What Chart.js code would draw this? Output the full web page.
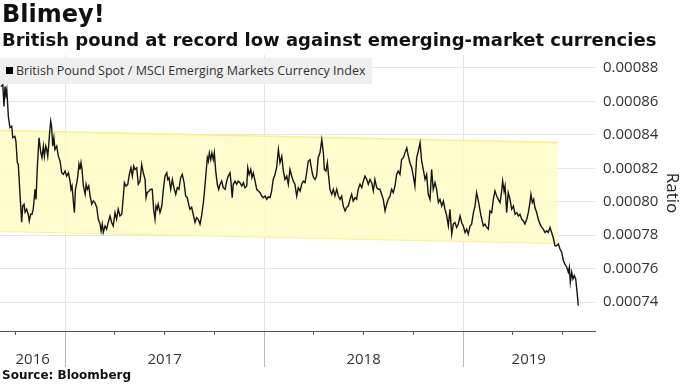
<!DOCTYPE html>
<html>
<head>
<meta charset="utf-8">
<script src="https://cdn.jsdelivr.net/npm/chart.js@4.4.1/dist/chart.umd.min.js"></script>
<style>
  html, body { margin: 0; padding: 0; background: #ffffff; }
  body { width: 683px; height: 384px; position: relative; overflow: hidden; }
  #chart { position: absolute; left: 0; top: 0; }
  .title { position: absolute; left: 2px; top: 0px; font-family: "DejaVu Sans", sans-serif; font-weight: bold; font-size: 24px; color: #111; white-space: nowrap; }
  .subtitle { position: absolute; left: 2px; top: 29px; font-family: "DejaVu Sans", sans-serif; font-weight: bold; font-size: 18px; color: #111; white-space: nowrap; letter-spacing: 0px; }
  .legend { position: absolute; left: 0; top: 58px; width: 372px; height: 26px; background: #efefef; font-family: "Open Sans", sans-serif; font-size: 12.5px; color: #333; white-space: nowrap; }
  .legend .sw { position: absolute; left: 6px; top: 9px; width: 7px; height: 7px; background: #000; }
  .legend .tx { position: absolute; left: 16px; top: 4px; }
  .source { position: absolute; left: 2px; top: 368px; font-family: "DejaVu Sans", sans-serif; font-weight: bold; font-size: 12px; color: #111; white-space: nowrap; }
</style>
</head>
<body>
<canvas id="chart" width="683" height="384"></canvas>
<div class="title">Blimey!</div>
<div class="subtitle">British pound at record low against emerging-market currencies</div>
<div class="legend"><span class="sw"></span><span class="tx">British Pound Spot / MSCI Emerging Markets Currency Index</span></div>
<div class="source">Source: Bloomberg</div>
<script>
// ---- Data (x = date as decimal year, y = GBP / MSCI EM currency index ratio) ----
const dates = [
  2016.677,2016.687,2016.693,2016.698,2016.703,2016.707,2016.715,2016.723,2016.732,2016.737,
  2016.748,2016.753,2016.760,2016.765,2016.774,2016.782,2016.787,2016.794,2016.799,2016.807,
  2016.815,2016.820,2016.827,2016.834,2016.840,2016.849,2016.854,2016.860,2016.869,2016.878,
  2016.884,2016.891,2016.896,2016.903,2016.908,2016.913,2016.918,2016.923,2016.928,2016.933,
  2016.938,2016.944,2016.949,2016.958,2016.966,2016.975,2016.983,2016.991,2017.000,2017.008,
  2017.017,2017.025,2017.030,2017.035,2017.042,2017.047,2017.052,2017.059,2017.064,2017.070,
  2017.075,2017.080,2017.085,2017.092,2017.101,2017.106,2017.112,2017.119,2017.126,2017.134,
  2017.142,2017.150,2017.159,2017.167,2017.176,2017.181,2017.187,2017.192,2017.201,2017.209,
  2017.217,2017.226,2017.234,2017.242,2017.251,2017.259,2017.267,2017.276,2017.285,2017.293,
  2017.298,2017.306,2017.315,2017.323,2017.331,2017.338,2017.345,2017.351,2017.360,2017.368,
  2017.377,2017.385,2017.393,2017.402,2017.407,2017.413,2017.422,2017.430,2017.438,2017.445,
  2017.452,2017.457,2017.463,2017.468,2017.477,2017.486,2017.494,2017.502,2017.511,2017.516,
  2017.522,2017.531,2017.539,2017.547,2017.556,2017.564,2017.572,2017.581,2017.589,2017.598,
  2017.606,2017.614,2017.623,2017.628,2017.636,2017.644,2017.653,2017.661,2017.669,2017.678,
  2017.686,2017.695,2017.700,2017.707,2017.715,2017.720,2017.725,2017.732,2017.738,2017.745,
  2017.750,2017.757,2017.765,2017.772,2017.779,2017.787,2017.795,2017.804,2017.812,2017.820,
  2017.829,2017.834,2017.840,2017.845,2017.854,2017.862,2017.870,2017.879,2017.888,2017.896,
  2017.904,2017.913,2017.918,2017.925,2017.933,2017.939,2017.946,2017.955,2017.963,2017.971,
  2017.980,2017.988,2017.996,2018.005,2018.013,2018.021,2018.030,2018.038,2018.046,2018.055,
  2018.063,2018.072,2018.080,2018.089,2018.097,2018.105,2018.114,2018.122,2018.130,2018.139,
  2018.147,2018.155,2018.164,2018.172,2018.181,2018.189,2018.197,2018.206,2018.214,2018.222,
  2018.231,2018.236,2018.242,2018.249,2018.256,2018.264,2018.272,2018.281,2018.290,2018.298,
  2018.303,2018.311,2018.318,2018.325,2018.331,2018.340,2018.348,2018.356,2018.365,2018.373,
  2018.382,2018.390,2018.398,2018.407,2018.415,2018.423,2018.432,2018.440,2018.448,2018.457,
  2018.465,2018.473,2018.482,2018.491,2018.499,2018.507,2018.516,2018.524,2018.532,2018.541,
  2018.549,2018.557,2018.566,2018.574,2018.582,2018.591,2018.599,2018.608,2018.616,2018.624,
  2018.633,2018.641,2018.649,2018.658,2018.666,2018.674,2018.683,2018.691,2018.700,2018.708,
  2018.717,2018.725,2018.733,2018.742,2018.750,2018.758,2018.767,2018.775,2018.784,2018.792,
  2018.800,2018.809,2018.817,2018.825,2018.834,2018.842,2018.850,2018.859,2018.867,2018.876,
  2018.884,2018.893,2018.901,2018.909,2018.918,2018.926,2018.934,2018.943,2018.951,2018.959,
  2018.968,2018.976,2018.985,2018.993,2019.001,2019.010,2019.018,2019.026,2019.035,2019.043,
  2019.052,2019.060,2019.068,2019.077,2019.090,2019.102,2019.110,2019.119,2019.127,2019.135,
  2019.144,2019.152,2019.160,2019.169,2019.177,2019.186,2019.194,2019.199,2019.206,2019.211,
  2019.219,2019.227,2019.236,2019.244,2019.253,2019.261,2019.270,2019.278,2019.286,2019.295,
  2019.303,2019.311,2019.320,2019.328,2019.336,2019.341,2019.348,2019.355,2019.361,2019.370,
  2019.378,2019.387,2019.395,2019.403,2019.412,2019.420,2019.428,2019.437,2019.445,2019.453,
  2019.462,2019.470,2019.479,2019.487,2019.496,2019.504,2019.512,2019.521,2019.529,2019.534,
  2019.539,2019.546,2019.552,2019.559,2019.566,2019.573,2019.579
];
const ratio = [
  0.0008689,0.0008699,0.0008570,0.0008689,0.0008639,0.0008669,0.0008510,0.0008443,0.0008451,0.0008383,
  0.0008391,0.0008361,0.0008235,0.0008223,0.0008034,0.0007877,0.0007974,0.0007985,0.0007937,0.0007955,
  0.0007925,0.0007885,0.0007925,0.0007925,0.0007955,0.0008074,0.0008014,0.0008193,0.0008382,0.0008294,
  0.0008264,0.0008332,0.0008272,0.0008332,0.0008312,0.0008272,0.0008342,0.0008421,0.0008480,0.0008441,
  0.0008332,0.0008382,0.0008312,0.0008332,0.0008272,0.0008242,0.0008173,0.0008163,0.0008183,0.0008153,
  0.0008173,0.0008123,0.0008074,0.0008094,0.0007995,0.0007935,0.0008074,0.0008114,0.0008153,0.0008223,
  0.0008193,0.0008233,0.0008193,0.0008094,0.0008044,0.0008104,0.0008074,0.0008094,0.0008034,0.0007985,
  0.0008004,0.0007995,0.0007967,0.0007895,0.0007866,0.0007826,0.0007866,0.0007816,0.0007855,0.0007836,
  0.0007876,0.0007915,0.0007876,0.0007855,0.0007935,0.0007895,0.0007955,0.0007915,0.0007925,0.0008034,
  0.0008114,0.0008094,0.0008104,0.0008163,0.0008203,0.0008153,0.0008213,0.0008193,0.0008203,0.0008104,
  0.0008123,0.0008223,0.0008173,0.0008133,0.0008024,0.0008054,0.0008064,0.0008074,0.0008074,0.0007955,
  0.0007895,0.0007974,0.0007955,0.0007985,0.0007935,0.0007974,0.0008074,0.0008153,0.0008173,0.0008133,
  0.0008144,0.0008074,0.0008133,0.0008084,0.0008044,0.0008084,0.0008074,0.0008144,0.0008163,0.0008114,
  0.0008034,0.0008024,0.0007974,0.0007955,0.0007967,0.0007925,0.0007876,0.0007905,0.0007895,0.0007866,
  0.0007915,0.0007995,0.0008054,0.0008153,0.0008263,0.0008242,0.0008292,0.0008252,0.0008292,0.0008252,
  0.0008292,0.0008183,0.0008104,0.0008074,0.0008104,0.0008123,0.0008084,0.0008074,0.0008123,0.0008153,
  0.0008173,0.0008114,0.0008024,0.0008104,0.0008123,0.0008104,0.0008123,0.0008114,0.0008094,0.0008114,
  0.0008084,0.0008094,0.0008203,0.0008163,0.0008193,0.0008144,0.0008173,0.0008123,0.0008074,0.0008064,
  0.0008054,0.0008034,0.0008024,0.0008034,0.0008014,0.0008030,0.0008024,0.0008064,0.0008133,0.0008163,
  0.0008203,0.0008312,0.0008233,0.0008272,0.0008183,0.0008133,0.0008153,0.0008104,0.0008193,0.0008153,
  0.0008123,0.0008104,0.0008034,0.0008084,0.0008064,0.0008104,0.0008123,0.0008114,0.0008173,0.0008242,
  0.0008252,0.0008213,0.0008173,0.0008144,0.0008133,0.0008153,0.0008263,0.0008292,0.0008371,0.0008292,
  0.0008193,0.0008183,0.0008233,0.0008144,0.0008074,0.0008044,0.0008074,0.0008034,0.0008074,0.0008034,
  0.0008014,0.0008034,0.0007974,0.0007945,0.0007965,0.0007974,0.0008014,0.0008044,0.0008004,0.0008024,
  0.0008014,0.0008074,0.0008104,0.0008084,0.0008123,0.0008153,0.0008133,0.0008104,0.0008133,0.0008114,
  0.0008064,0.0008133,0.0008084,0.0008074,0.0008074,0.0008044,0.0008014,0.0007945,0.0007985,0.0008014,
  0.0008034,0.0008074,0.0008054,0.0008094,0.0008163,0.0008183,0.0008163,0.0008252,0.0008263,0.0008292,
  0.0008322,0.0008272,0.0008233,0.0008203,0.0008153,0.0008094,0.0008263,0.0008302,0.0008352,0.0008242,
  0.0008193,0.0008133,0.0008163,0.0008044,0.0008014,0.0008193,0.0008074,0.0008114,0.0008074,0.0007995,
  0.0008014,0.0007974,0.0008004,0.0007955,0.0007915,0.0007855,0.0007955,0.0007806,0.0007866,0.0007876,
  0.0007846,0.0007866,0.0007915,0.0007876,0.0007855,0.0007816,0.0007836,0.0007806,0.0007855,0.0007866,
  0.0007935,0.0007974,0.0008054,0.0008004,0.0007915,0.0007855,0.0007866,0.0007846,0.0007836,0.0007945,
  0.0007935,0.0008014,0.0008064,0.0008034,0.0008014,0.0007995,0.0008064,0.0008123,0.0008064,0.0008094,
  0.0007935,0.0008054,0.0008014,0.0007955,0.0007974,0.0007925,0.0007935,0.0007915,0.0007925,0.0007895,
  0.0007885,0.0007866,0.0007895,0.0007935,0.0007995,0.0008044,0.0007995,0.0008014,0.0007965,0.0007935,
  0.0007895,0.0007866,0.0007846,0.0007836,0.0007816,0.0007826,0.0007816,0.0007846,0.0007816,0.0007786,
  0.0007736,0.0007736,0.0007747,0.0007717,0.0007697,0.0007647,0.0007627,0.0007608,0.0007578,0.0007608,
  0.0007518,0.0007578,0.0007538,0.0007558,0.0007538,0.0007459,0.0007379
];

// Trading channel (yellow band): start / end dates and upper / lower bounds
const bandDates = [2016.673, 2019.477];
const bandUpper = [0.0008425, 0.0008354];
const bandLower = [0.0007824, 0.0007752];

// Axes
const xMin = 2016.673, xMax = 2019.663;
const yMin = 0.0007227, yMax = 0.0008877;
const yTicks = [0.00074, 0.00076, 0.00078, 0.00080, 0.00082, 0.00084, 0.00086, 0.00088];
const yearBoundaries = [2017, 2018, 2019];
const yearLabelPos = [2016.837, 2017.5, 2018.5, 2019.33];
const yearLabels = ['2016', '2017', '2018', '2019'];
const quarterTicks = [2016.75, 2017.25, 2017.5, 2017.75, 2018.25, 2018.5, 2018.75, 2019.25, 2019.5];

const seriesName = 'British Pound Spot / MSCI Emerging Markets Currency Index';

const mainTicks = yearBoundaries.concat(yearLabelPos).sort((a, b) => a - b);
const isBoundary = v => yearBoundaries.some(b => Math.abs(b - v) < 1e-6);

new Chart(document.getElementById('chart'), {
  type: 'line',
  data: {
    datasets: [
      {
        label: seriesName,
        data: dates.map((d, i) => ({ x: d, y: ratio[i] })),
        borderColor: '#151515',
        borderWidth: 1.4,
        pointRadius: 0,
        tension: 0,
        fill: false,
        order: 0
      },
      {
        label: 'channel upper',
        data: bandDates.map((d, i) => ({ x: d, y: bandUpper[i] })),
        borderColor: '#f7f08c',
        borderWidth: 1.5,
        backgroundColor: 'rgba(255, 252, 196, 0.85)',
        pointRadius: 0,
        fill: '+1',
        order: 2
      },
      {
        label: 'channel lower',
        data: bandDates.map((d, i) => ({ x: d, y: bandLower[i] })),
        borderColor: '#f7f08c',
        borderWidth: 1.5,
        pointRadius: 0,
        fill: false,
        order: 3
      }
    ]
  },
  options: {
    responsive: false,
    animation: false,
    events: [],
    layout: { padding: { top: 55, left: 0, right: 0, bottom: 13 } },
    plugins: {
      legend: { display: false },
      tooltip: { enabled: false },
      title: { display: false }
    },
    scales: {
      x: {
        type: 'linear',
        position: 'bottom',
        min: xMin, max: xMax,
        afterBuildTicks: s => { s.ticks = mainTicks.map(v => ({ value: v })); },
        afterFit: s => { s.height = 40; },
        grid: {
          drawOnChartArea: true,
          drawTicks: true,
          tickLength: 36,
          color: c => (c.tick && isBoundary(c.tick.value)) ? '#e4e4e4' : 'rgba(0,0,0,0)',
          tickColor: c => (c.tick && isBoundary(c.tick.value)) ? '#b8b8b8' : 'rgba(0,0,0,0)',
          lineWidth: 1
        },
        border: { display: true, color: '#555555', width: 1 },
        ticks: {
          autoSkip: false,
          maxRotation: 0,
          padding: -16,
          color: '#333333',
          font: { family: 'Open Sans', size: 15 },
          callback: v => {
            const i = yearLabelPos.findIndex(p => Math.abs(p - v) < 1e-6);
            return i >= 0 ? yearLabels[i] : '';
          }
        }
      },
      xq: {
        type: 'linear',
        axis: 'x',
        position: { y: yMin },
        min: xMin, max: xMax,
        afterBuildTicks: s => { s.ticks = quarterTicks.map(v => ({ value: v })); },
        grid: { drawOnChartArea: false, drawTicks: true, tickLength: 4, tickColor: '#555555', color: 'rgba(0,0,0,0)' },
        border: { display: false },
        ticks: { display: false }
      },
      y: {
        type: 'linear',
        position: 'right',
        min: yMin, max: yMax,
        afterBuildTicks: s => { s.ticks = yTicks.map(v => ({ value: v })); },
        afterFit: s => { s.width = 88; },
        grid: { color: '#e6e6e6', drawTicks: false, lineWidth: 1 },
        border: { display: false },
        ticks: {
          padding: 8,
          color: '#333333',
          font: { family: 'Open Sans', size: 15 },
          callback: v => Number(v).toFixed(5)
        },
        title: {
          display: true,
          text: 'Ratio',
          color: '#222222',
          font: { family: 'Open Sans', size: 17 },
          padding: { top: 1, bottom: 0 }
        }
      }
    }
  }
});
</script>
</body>
</html>
